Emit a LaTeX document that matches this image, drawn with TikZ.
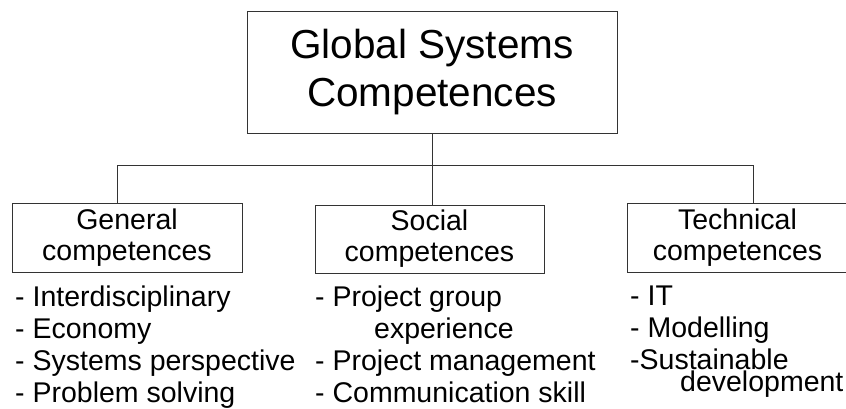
\documentclass[tikz,border=0pt]{standalone}
\usepackage{fontspec}
\setmainfont{Liberation Sans}
\usepackage{tikz}
\usetikzlibrary{positioning, calc}

\begin{document}
\begin{tikzpicture}[
  x=1pt, y=-1pt,
  box/.style={draw=black!80, line width=1pt, align=center, inner sep=0pt, font=\fontsize{28.5}{31}\selectfont},
  lst/.style={anchor=base west, align=left, inner sep=0pt, font=\fontsize{28.5}{32}\selectfont},
  con/.style={draw=black!80, line width=1pt},
]
  \useasboundingbox (0,0) rectangle (846,408);
  \clip (0,0) rectangle (846,408);

  \node[box, minimum width=370pt, minimum height=122pt, font=\fontsize{40.5}{48}\selectfont] (top) at (432,72) {Global Systems\\Competences};
  \node[box, minimum width=230pt, minimum height=69pt] (gen) at (127,237.5) {General\\competences};
  \node[box, minimum width=229pt, minimum height=68pt] (soc) at (429.5,239) {Social\\competences};
  \node[box, minimum width=221pt, minimum height=69pt] (tech) at (737.5,237.5) {Technical\\competences};

  \coordinate (jl) at (117,165);
  \coordinate (jr) at (753,165);
  \coordinate (jm) at (top.south |- jl);
  \draw[con] (top.south) -- (jm);
  \draw[con] (jl) -- (jr);
  \draw[con] (jl) -- (jl |- gen.north);
  \draw[con] (jm) -- (jm |- soc.north);
  \draw[con] (jr) -- (jr |- tech.north);

  % anchored at the baseline of the last line
  \node[lst] (genlist) at (15,402) {- Interdisciplinary\\- Economy\\- Systems perspective\\- Problem solving};
  \node[lst] (soclist) at (315,402) {- Project group\\\hspace*{59pt}experience\\- Project management\\- Communication skill};
  \node[lst] (techlist) at (630,391) {- IT\\- Modelling\\-Sustainable\\[-10pt]\hspace*{50pt}development};
\end{tikzpicture}
\end{document}
